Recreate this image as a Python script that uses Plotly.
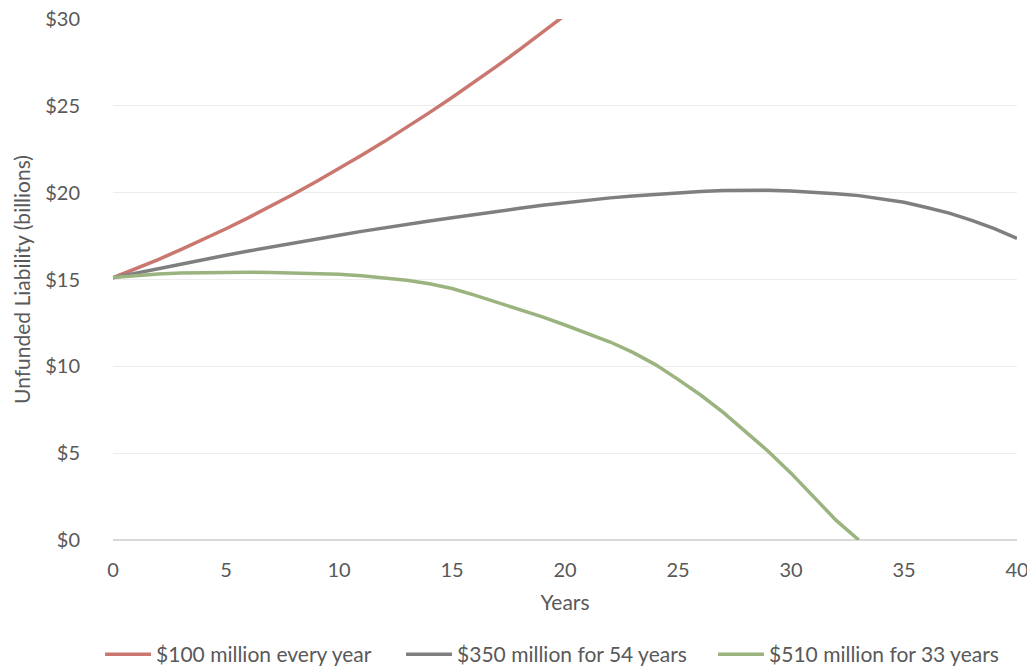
import plotly.graph_objects as go

years_red = list(range(0, 22))
red_vals = [15.10, 15.61, 16.15, 16.72, 17.30, 17.92, 18.56, 19.23, 19.92, 20.64,
            21.38, 22.15, 22.94, 23.76, 24.61, 25.48, 26.38, 27.30, 28.25, 29.22,
            30.22, 31.25]

years_gray = list(range(0, 41))
gray_vals = [15.10, 15.37, 15.64, 15.90, 16.15, 16.40, 16.64, 16.88, 17.11, 17.33,
             17.55, 17.77, 17.98, 18.18, 18.37, 18.55, 18.75, 18.93, 19.10, 19.27,
             19.43, 19.57, 19.70, 19.81, 19.91, 20.00, 20.07, 20.12, 20.15, 20.14,
             20.10, 20.03, 19.94, 19.83, 19.66, 19.45, 19.15, 18.82, 18.40, 17.93,
             17.37]

years_green = list(range(0, 34))
green_vals = [15.12, 15.24, 15.32, 15.38, 15.41, 15.42, 15.42, 15.41, 15.39, 15.35,
              15.30, 15.22, 15.11, 14.96, 14.75, 14.48, 14.10, 13.69, 13.27, 12.85,
              12.38, 11.90, 11.40, 10.80, 10.10, 9.25, 8.35, 7.35, 6.25, 5.10,
              3.85, 2.50, 1.13, 0.00]

series_names = ["$100 million every year", "$350 million for 54 years", "$510 million for 33 years"]
series_colors = ["#C9776F", "#7F7F7F", "#9BB47F"]

x_ticks = [0, 5, 10, 15, 20, 25, 30, 35, 40]
y_ticks = [0, 5, 10, 15, 20, 25, 30]
y_tick_text = ["$0", "$5", "$10", "$15", "$20", "$25", "$30"]

FONT = "Lato"
TXT = "#595959"
FS = 20
FS_BIG = 21

legend_ids = ["legend", "legend2", "legend3"]
legend_x = [0.0974, 0.3905, 0.6943]

fig = go.Figure()
for xs, ys, name, col, lid in zip([years_red, years_gray, years_green],
                                  [red_vals, gray_vals, green_vals],
                                  series_names, series_colors, legend_ids):
    fig.add_trace(go.Scatter(x=xs, y=ys, mode="lines", name=name, legend=lid,
                             line=dict(color=col, width=3.5)))

legend_common = dict(orientation="h", xref="container", xanchor="left",
                     yref="container", y=0.02, yanchor="middle",
                     font=dict(family=FONT, size=FS_BIG, color=TXT), itemwidth=46,
                     bgcolor="rgba(0,0,0,0)")

fig.update_layout(
    width=1027, height=668, autosize=False,
    margin=dict(l=113, r=10, t=19, b=128, autoexpand=False),
    paper_bgcolor="white", plot_bgcolor="white",
    font=dict(family=FONT, size=FS, color=TXT),
    showlegend=True,
    legend=dict(x=legend_x[0], **legend_common),
    legend2=dict(x=legend_x[1], **legend_common),
    legend3=dict(x=legend_x[2], **legend_common),
)
fig.update_xaxes(range=[0, 40], tickvals=x_ticks, showgrid=False, zeroline=False,
                 showline=False, ticks="", ticklabelstandoff=16,
                 ticklabeloverflow="allow",
                 title=dict(text="Years", standoff=15, font=dict(size=FS_BIG, color=TXT)))
fig.update_yaxes(range=[0, 30], tickvals=y_ticks, ticktext=y_tick_text,
                 showgrid=True, gridcolor="#EDEDED", gridwidth=1,
                 zeroline=True, zerolinecolor="#D9D9D9", zerolinewidth=1.5,
                 showline=False, ticks="", ticklabelstandoff=32,
                 title=dict(text="Unfunded Liability (billions)", standoff=8,
                            font=dict(size=FS_BIG, color=TXT)))

fig.write_html("out.html")
